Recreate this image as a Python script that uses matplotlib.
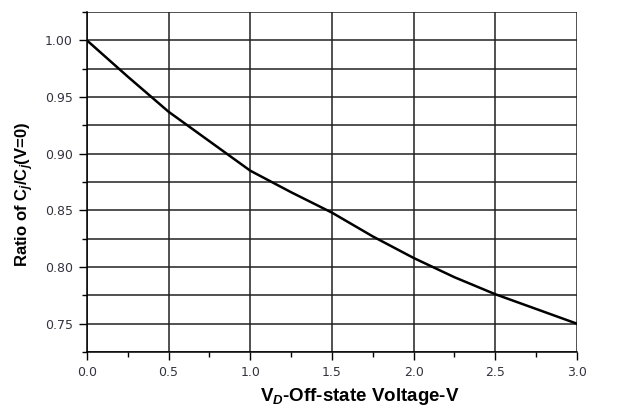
import matplotlib
matplotlib.use('Agg')
import matplotlib.pyplot as plt
from matplotlib.ticker import MultipleLocator
import numpy as np

# values
voltage = [0.0, 0.25, 0.5, 0.75, 1.0, 1.25, 1.5, 1.75, 2.0, 2.25, 2.5, 2.75, 3.0]
ratio = [1.000, 0.968, 0.937, 0.911, 0.885, 0.866, 0.848, 0.827, 0.808, 0.791, 0.776, 0.763, 0.750]
xticks = [0.0, 0.5, 1.0, 1.5, 2.0, 2.5, 3.0]
yticks = [0.75, 0.80, 0.85, 0.90, 0.95, 1.00]

plt.rcParams['font.family'] = ['Liberation Sans', 'DejaVu Sans']
plt.rcParams['mathtext.fontset'] = 'custom'
plt.rcParams['mathtext.rm'] = 'Liberation Sans:bold'
plt.rcParams['mathtext.it'] = 'Liberation Sans:italic:bold'
plt.rcParams['mathtext.bf'] = 'Liberation Sans:bold'

W, H = 639, 407
fig = plt.figure(figsize=(W / 100, H / 100), dpi=100)
ax = fig.add_axes([0.136, 0.135, 0.767, 0.8355])

ax.plot(voltage, ratio, color='black', lw=1.8, zorder=3)

ax.set_xlim(0, 3.0)
ax.set_ylim(0.725, 1.025)
ax.xaxis.set_minor_locator(MultipleLocator(0.25))
ax.yaxis.set_minor_locator(MultipleLocator(0.025))
ax.set_xticks(xticks)
ax.set_xticklabels(['%.1f' % v for v in xticks])
ax.set_yticks(yticks)
ax.set_yticklabels(['%.2f' % v for v in yticks])

ax.grid(True, which='major', axis='x', color='#222222', lw=1.1)
ax.grid(True, which='both', axis='y', color='#222222', lw=1.1)

for s in ['top', 'right']:
    ax.spines[s].set_visible(False)
ax.spines['left'].set_linewidth(1.1)
ax.spines['bottom'].set_linewidth(1.1)

ax.tick_params(which='major', direction='out', length=6, width=1.0, labelsize=9,
               labelcolor='#33333f', pad=4)
ax.tick_params(which='minor', direction='out', length=3.5, width=1.0)
for t in ax.get_xticklabels() + ax.get_yticklabels():
    t.set_family('DejaVu Sans')

# axis titles placed by hand, like the reference
fig.text(360 / W, 1 - 401 / H, 'V$_D$-Off-state Voltage-V', fontsize=13.5,
         fontweight='bold', ha='center', va='baseline')
fig.text(25 / W, 1 - 194 / H, 'Ratio of C$_j$/C$_j$(V=0)', fontsize=12,
         fontweight='bold', rotation=90, ha='center', va='center')

fig.savefig('out.png', dpi=100)
